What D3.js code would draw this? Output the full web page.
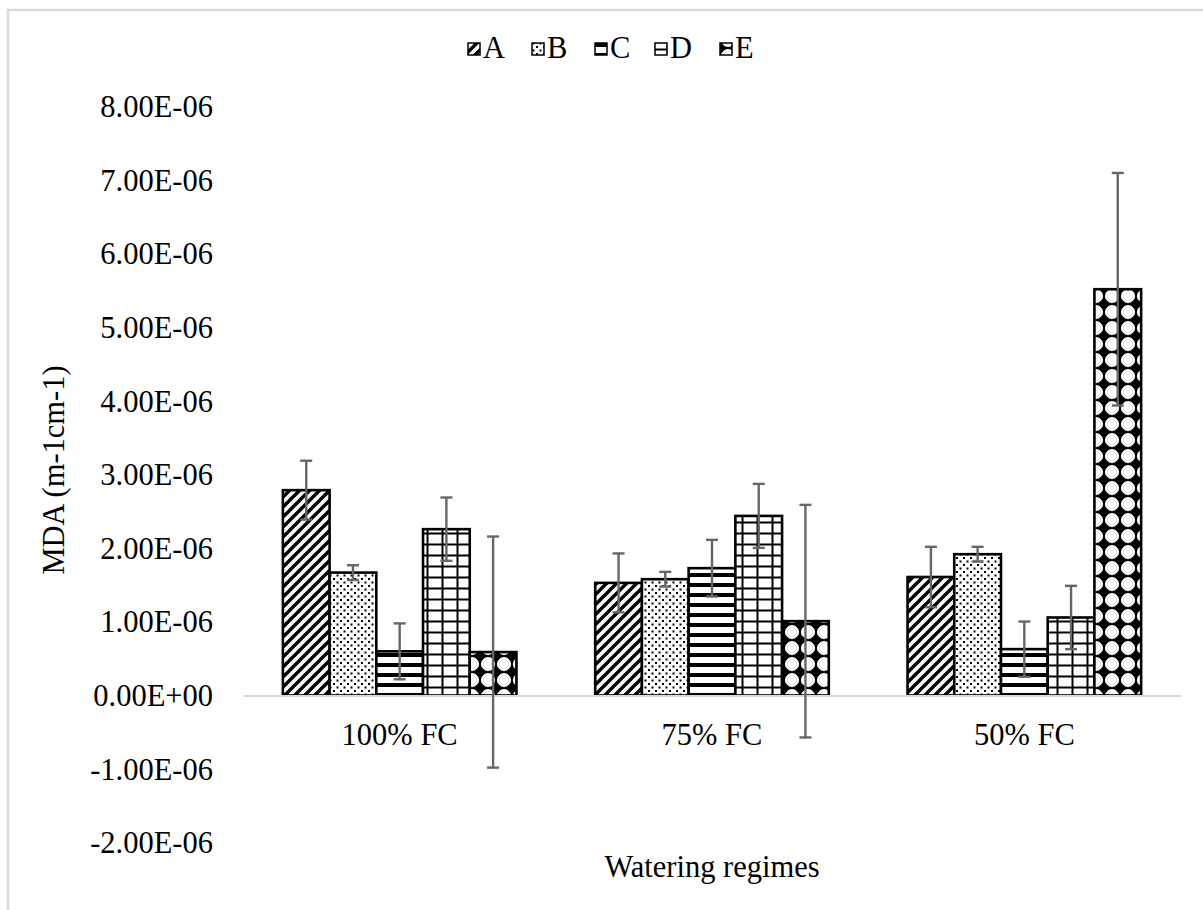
<!DOCTYPE html>
<html>
<head>
<meta charset="utf-8">
<script src="https://cdn.jsdelivr.net/npm/d3@7"></script>
<style>
  html, body { margin: 0; padding: 0; background: #fff; }
  svg { display: block; }
  text { font-family: "Liberation Serif", "Times New Roman", serif; fill: #000; }
</style>
</head>
<body>
<svg id="chart" width="1203" height="910"></svg>
<script>
// ---- data (values in units of 1e-6) ----
const categories = ["100% FC", "75% FC", "50% FC"];
const seriesNames = ["A", "B", "C", "D", "E"];
const valuesA = [2.79, 1.53, 1.61];
const valuesB = [1.67, 1.58, 1.92];
const valuesC = [0.60, 1.73, 0.63];
const valuesD = [2.26, 2.44, 1.06];
const valuesE = [0.59, 1.01, 5.52];
const errorsA = [0.40, 0.40, 0.41];
const errorsB = [0.10, 0.10, 0.10];
const errorsC = [0.38, 0.385, 0.375];
const errorsD = [0.43, 0.435, 0.43];
const errorsE = [1.57, 1.58, 1.58];
const yTickValues = [-2, -1, 0, 1, 2, 3, 4, 5, 6, 7, 8];
const yTickLabels = ["-2.00E-06", "-1.00E-06", "0.00E+00", "1.00E-06", "2.00E-06", "3.00E-06",
                     "4.00E-06", "5.00E-06", "6.00E-06", "7.00E-06", "8.00E-06"];
const xTitle = "Watering regimes";
const yTitle = "MDA (m-1cm-1)";

const seriesValues = [valuesA, valuesB, valuesC, valuesD, valuesE];
const seriesErrors = [errorsA, errorsB, errorsC, errorsD, errorsE];
const rows = [];
categories.forEach((c, ci) => seriesNames.forEach((s, si) => {
  rows.push({ cat: c, ser: s, v: seriesValues[si][ci], e: seriesErrors[si][ci] });
}));

const svg = d3.select("#chart");
const FONT = 30.5;

// ---- patterns ----
const defs = svg.append("defs");
function pat(id, w, h) {
  return defs.append("pattern").attr("id", id).attr("patternUnits", "userSpaceOnUse")
    .attr("width", w).attr("height", h);
}
// A: wide upward diagonal
let p = pat("pA", 10, 10);
p.append("rect").attr("width", 10).attr("height", 10).attr("fill", "#fff");
p.append("path").attr("d", "M-3,13 L13,-3 M-3,3 L3,-3 M7,13 L13,7")
  .attr("stroke", "#000").attr("stroke-width", 3.4);
// B: dots
p = pat("pB", 7, 7);
p.append("rect").attr("width", 7).attr("height", 7).attr("fill", "#fff");
p.append("rect").attr("x", 0.5).attr("y", 0.5).attr("width", 2).attr("height", 2).attr("fill", "#000");
p.append("rect").attr("x", 4).attr("y", 4).attr("width", 2).attr("height", 2).attr("fill", "#000");
// C: horizontal stripes
p = pat("pC", 10, 10);
p.append("rect").attr("width", 10).attr("height", 10).attr("fill", "#fff");
p.append("rect").attr("y", 3).attr("width", 10).attr("height", 4).attr("fill", "#000");
// D: large grid
p = pat("pD", 15, 11);
p.append("rect").attr("width", 15).attr("height", 11).attr("fill", "#fff");
p.append("rect").attr("x", 6.5).attr("width", 2).attr("height", 11).attr("fill", "#000");
p.append("rect").attr("y", 4.5).attr("width", 15).attr("height", 2).attr("fill", "#000");
// E: black stars between white circles
p = pat("pE", 16, 16);
p.append("rect").attr("width", 16).attr("height", 16).attr("fill", "#000");
p.append("circle").attr("cx", 8).attr("cy", 8).attr("r", 7.1).attr("fill", "#fff");
[[0, 0], [16, 0], [0, 16], [16, 16]].forEach(([cx, cy]) =>
  p.append("circle").attr("cx", cx).attr("cy", cy).attr("r", 4.6).attr("fill", "#000"));

const patMap = { A: "url(#pA)", B: "url(#pB)", C: "url(#pC)", D: "url(#pD)", E: "url(#pE)" };

// ---- background & border ----
svg.append("rect").attr("width", 1203).attr("height", 910).attr("fill", "#fff");
svg.append("rect").attr("x", 8).attr("y", 10).attr("width", 1300).attr("height", 1000)
  .attr("fill", "none").attr("stroke", "#d9d9d9").attr("stroke-width", 2.5);

// ---- scales ----
const plotLeft = 243.5, plotRight = 1180.5;
const y = d3.scaleLinear().domain([-2, 8]).range([842.7, 106.7]);
const x0 = d3.scaleBand().domain(categories).range([plotLeft, plotRight]).padding(0);
const x1 = d3.scaleBand().domain(seriesNames).range([0, x0.bandwidth()])
  .paddingInner(0).paddingOuter(0.843);

// ---- y axis labels (no line) ----
const yAxis = d3.axisLeft(y).tickValues(yTickValues)
  .tickFormat((d, i) => yTickLabels[i]).tickSize(0).tickPadding(0);
const yg = svg.append("g").attr("transform", "translate(213,0)").call(yAxis);
yg.select(".domain").remove();
yg.selectAll("text").attr("font-size", FONT).attr("font-family", "Liberation Serif, serif")
  .attr("fill", "#000").attr("dy", "0.33em");

// ---- bars ----
const gBars = svg.append("g");
gBars.selectAll("rect").data(rows).join("rect")
  .attr("x", d => x0(d.cat) + x1(d.ser))
  .attr("width", x1.bandwidth())
  .attr("y", d => y(Math.max(0, d.v)))
  .attr("height", d => Math.abs(y(d.v) - y(0)))
  .attr("fill", d => patMap[d.ser])
  .attr("stroke", "#000").attr("stroke-width", 2.6);

// ---- zero line (x axis) ----
const xAxis = d3.axisBottom(x0).tickSize(0).tickPadding(0);
const xg = svg.append("g").attr("transform", `translate(0,${y(0)})`).call(xAxis);
xg.select(".domain").attr("stroke", "#d9d9d9").attr("stroke-width", 2.2);
xg.selectAll("text").attr("font-size", FONT).attr("font-family", "Liberation Serif, serif")
  .attr("fill", "#000").attr("dy", 0).attr("y", 49);

// ---- error bars ----
const gErr = svg.append("g").attr("stroke", "#666").attr("stroke-width", 2.4).attr("fill", "none");
const cap = 6;
rows.forEach(d => {
  const cx = x0(d.cat) + x1(d.ser) + x1.bandwidth() / 2;
  const yt = y(d.v + d.e), yb = y(d.v - d.e);
  gErr.append("line").attr("x1", cx).attr("x2", cx).attr("y1", yt).attr("y2", yb);
  gErr.append("line").attr("x1", cx - cap).attr("x2", cx + cap).attr("y1", yt).attr("y2", yt);
  gErr.append("line").attr("x1", cx - cap).attr("x2", cx + cap).attr("y1", yb).attr("y2", yb);
});

// ---- axis titles ----
svg.append("text").attr("x", (plotLeft + plotRight) / 2).attr("y", 877)
  .attr("text-anchor", "middle").attr("font-size", FONT).text(xTitle);
svg.append("text").attr("transform", `translate(64,470) rotate(-90)`)
  .attr("text-anchor", "middle").attr("font-size", FONT).text(yTitle);

// ---- legend ----
const legendX = [468, 532, 595, 655, 720];
const legend = svg.append("g");
seriesNames.forEach((s, i) => {
  legend.append("rect").attr("x", legendX[i]).attr("y", 43).attr("width", 12).attr("height", 12)
    .attr("fill", patMap[s]).attr("stroke", "#000").attr("stroke-width", 1.5);
  legend.append("text").attr("x", legendX[i] + 15).attr("y", 58)
    .attr("font-size", FONT).text(s);
});
</script>
</body>
</html>
